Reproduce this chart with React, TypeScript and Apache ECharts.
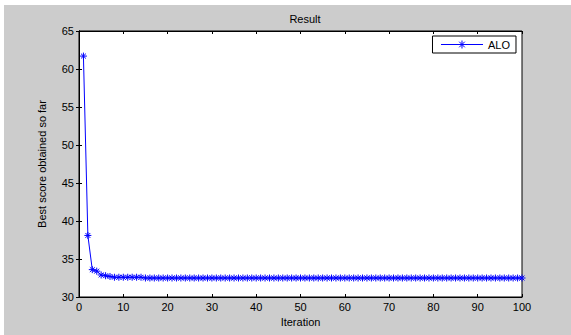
import React, { useEffect, useRef } from "react";
import * as echarts from "echarts";

const iterations: number[] = Array.from({ length: 100 }, (_, i) => i + 1);
const bestScores: number[] = [
  61.7, 38.1, 33.6, 33.4, 32.9, 32.8, 32.7, 32.6, 32.6, 32.6,
  32.6, 32.6, 32.6, 32.6, 32.5, 32.5, 32.5, 32.5, 32.5, 32.5,
  32.5, 32.5, 32.5, 32.5, 32.5, 32.5, 32.5, 32.5, 32.5, 32.5,
  32.5, 32.5, 32.5, 32.5, 32.5, 32.5, 32.5, 32.5, 32.5, 32.5,
  32.5, 32.5, 32.5, 32.5, 32.5, 32.5, 32.5, 32.5, 32.5, 32.5,
  32.5, 32.5, 32.5, 32.5, 32.5, 32.5, 32.5, 32.5, 32.5, 32.5,
  32.5, 32.5, 32.5, 32.5, 32.5, 32.5, 32.5, 32.5, 32.5, 32.5,
  32.5, 32.5, 32.5, 32.5, 32.5, 32.5, 32.5, 32.5, 32.5, 32.5,
  32.5, 32.5, 32.5, 32.5, 32.5, 32.5, 32.5, 32.5, 32.5, 32.5,
  32.5, 32.5, 32.5, 32.5, 32.5, 32.5, 32.5, 32.5, 32.5, 32.5,
];
const seriesName = "ALO";
const titleText = "Result";
const xLabel = "Iteration";
const yLabel = "Best score obtained so far";

const FONT = "'Liberation Sans', Arial, Helvetica, sans-serif";
const ASTERISK = "path://M0,-5L0,5M-5,0L5,0M-3.5,-3.5L3.5,3.5M-3.5,3.5L3.5,-3.5";
const LEGEND_ICON = "path://M0,4.5L42,4.5M21,0.5L21,8.5M17,4.5L25,4.5M18.2,1.7L23.8,7.3M18.2,7.3L23.8,1.7";

export default function App() {
  const ref = useRef<HTMLDivElement>(null);
  useEffect(() => {
    if (!ref.current) return;
    const chart = echarts.init(ref.current, undefined, { renderer: "svg" });
    const tickStyle = {
      show: true,
      inside: true,
      length: 3,
      lineStyle: { color: "#000", width: 1 },
    };
    const axisLine = { show: true, lineStyle: { color: "#000", width: 1 } };
    chart.setOption({
      animation: false,
      backgroundColor: "#cccccc",
      textStyle: { fontFamily: FONT },
      title: {
        text: titleText,
        left: 296,
        top: 3,
        textAlign: "center",
        textStyle: { fontSize: 11, fontWeight: "normal", color: "#000", fontFamily: FONT },
      },
      grid: {
        left: 75,
        top: 26,
        right: 49,
        bottom: 38,
        show: true,
        backgroundColor: "#ffffff",
        borderColor: "#000",
        borderWidth: 1,
      },
      legend: {
        show: true,
        right: 55,
        top: 31,
        orient: "vertical",
        backgroundColor: "#ffffff",
        borderColor: "#000",
        borderWidth: 1,
        borderRadius: 0,
        padding: [3, 6, 3, 8],
        itemWidth: 42,
        itemHeight: 8,
        itemGap: 5,
        itemStyle: { color: "#0000ff", borderColor: "#0000ff", borderWidth: 1 },
        textStyle: { fontSize: 11, color: "#000", fontFamily: FONT },
        data: [{ name: seriesName, icon: LEGEND_ICON }],
      },
      xAxis: [
        {
          type: "value",
          min: 0,
          max: 100,
          interval: 10,
          position: "bottom",
          axisLine,
          axisTick: tickStyle,
          splitLine: { show: false },
          axisLabel: { color: "#000", fontSize: 11, margin: 4, fontFamily: FONT },
          name: xLabel,
          nameLocation: "middle",
          nameGap: 17,
          nameTextStyle: { color: "#000", fontSize: 11, fontFamily: FONT },
        },
        {
          type: "value",
          min: 0,
          max: 100,
          interval: 10,
          position: "top",
          axisLine,
          axisTick: tickStyle,
          splitLine: { show: false },
          axisLabel: { show: false },
        },
      ],
      yAxis: [
        {
          type: "value",
          min: 30,
          max: 65,
          interval: 5,
          position: "left",
          axisLine,
          axisTick: tickStyle,
          splitLine: { show: false },
          axisLabel: { color: "#000", fontSize: 11, margin: 5, fontFamily: FONT },
          name: yLabel,
          nameLocation: "middle",
          nameGap: 32,
          nameTextStyle: { color: "#000", fontSize: 11, fontFamily: FONT },
        },
        {
          type: "value",
          min: 30,
          max: 65,
          interval: 5,
          position: "right",
          axisLine,
          axisTick: tickStyle,
          splitLine: { show: false },
          axisLabel: { show: false },
        },
      ],
      series: [
        {
          name: seriesName,
          type: "line",
          xAxisIndex: 0,
          yAxisIndex: 0,
          data: iterations.map((it, i) => [it, bestScores[i]]),
          symbol: ASTERISK,
          symbolSize: 7,
          showAllSymbol: true,
          lineStyle: { color: "#0000ff", width: 1 },
          itemStyle: { color: "#0000ff", borderColor: "#0000ff", borderWidth: 1 },
          emphasis: { disabled: true },
        },
      ],
    });
    return () => chart.dispose();
  }, []);
  return (
    <div style={{ position: "fixed", left: 0, top: 0, width: 571, height: 335, background: "#ffffff" }}>
      <div ref={ref} style={{ position: "absolute", left: 4, top: 5, width: 567, height: 330 }} />
    </div>
  );
}
